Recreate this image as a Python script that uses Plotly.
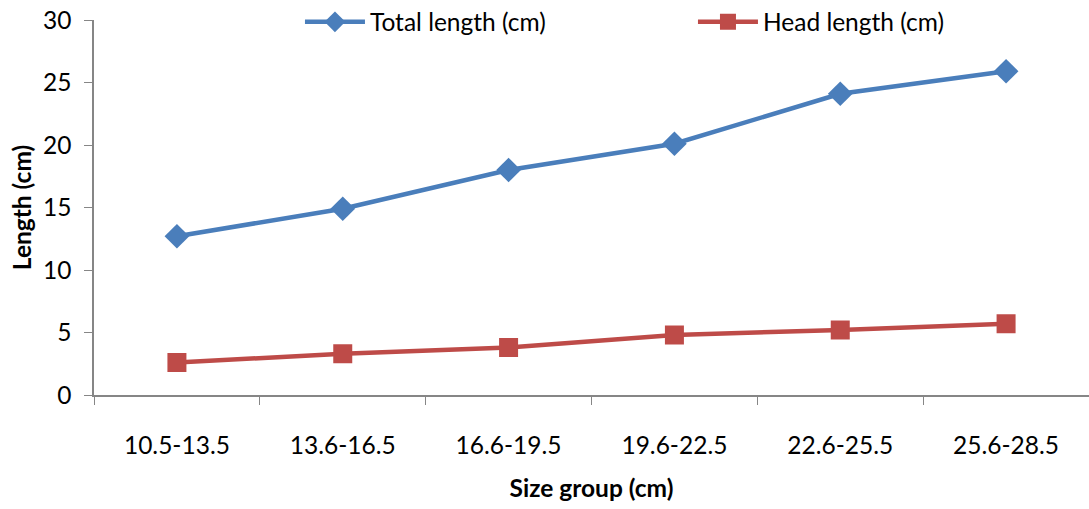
import plotly.graph_objects as go

size_groups = ["10.5-13.5", "13.6-16.5", "16.6-19.5", "19.6-22.5", "22.6-25.5", "25.6-28.5"]
total_length = [12.7, 14.9, 18.0, 20.1, 24.1, 25.9]
head_length = [2.6, 3.3, 3.8, 4.8, 5.2, 5.7]

FONT = "Lato, Carlito, Calibri, sans-serif"
AXIS_GREY = "#868686"
FS = 24.5

fig = go.Figure()
fig.add_trace(go.Scatter(
    x=size_groups, y=total_length, name="Total length (cm)",
    mode="lines+markers",
    line=dict(color="#4A7EBB", width=4.5),
    marker=dict(symbol="diamond", size=19, color="#4A7EBB"),
    legendwidth=318,
))
fig.add_trace(go.Scatter(
    x=size_groups, y=head_length, name="Head length (cm)",
    mode="lines+markers",
    line=dict(color="#BE4B48", width=4.5),
    marker=dict(symbol="square", size=19, color="#BE4B48"),
    legendwidth=190,
))

fig.update_layout(
    width=1089, height=509,
    margin=dict(l=94, r=0, t=20, b=114, autoexpand=False),
    paper_bgcolor="white", plot_bgcolor="white",
    font=dict(family=FONT, size=FS, color="black"),
    showlegend=True,
    legend=dict(
        orientation="h", x=0.207, xanchor="left", y=0.995, yanchor="middle",
        font=dict(size=FS),
        bgcolor="rgba(0,0,0,0)", itemwidth=60,
    ),
    xaxis=dict(
        type="category", range=[-0.5, 5.5],
        showline=True, linecolor=AXIS_GREY, linewidth=1.5,
        ticks="outside", tickson="boundaries", ticklen=8, tickcolor=AXIS_GREY,
        showgrid=False, zeroline=False,
        tickfont=dict(size=FS), ticklabelstandoff=28,
        title=dict(text="<b>Size group (cm)</b>", font=dict(size=FS), standoff=22),
    ),
    yaxis=dict(
        range=[0, 30], dtick=5,
        showline=True, linecolor=AXIS_GREY, linewidth=1.5,
        ticks="outside", ticklen=8, tickcolor=AXIS_GREY,
        showgrid=False, zeroline=False,
        tickfont=dict(size=FS), ticklabelstandoff=8,
        title=dict(text="<b>Length (cm)</b>", font=dict(size=FS), standoff=4),
    ),
)

fig.write_html("out.html")
